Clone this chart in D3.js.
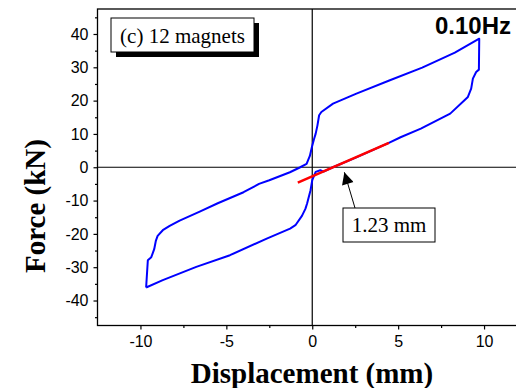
<!DOCTYPE html>
<html>
<head>
<meta charset="utf-8">
<script src="https://cdn.jsdelivr.net/npm/d3@7"></script>
<style>
    body { margin: 0; background: #fff; }
    svg { display: block; }
</style>
</head>
<body>
<svg id="chart" width="516" height="388"></svg>
<script>
// hysteresis loop (displacement mm, force kN)
const loopX = [
    -9.67, -8.7, -6.75, -4.79, -2.65, -1.29, -0.98, -0.6, -0.4, -0.3, -0.1, 0.0, 0.2, 0.47, 0.66,
    1.2, 2.5, 4.46, 5.14, 6.32, 8.03, 8.86, 9.06, 9.25, 9.35, 9.54, 9.7, 9.72,
    8.3, 6.4, 4.52, 2.57, 1.21, 0.53, 0.4, 0.3, 0.2, 0.1, -0.02, -0.14, -0.33, -0.7, -1.3,
    -2.5, -3.1, -4.0, -5.5, -6.55, -7.72, -8.3, -8.7, -9.0, -9.1, -9.2, -9.37, -9.57, -9.67
];
const loopY = [
    -36.1, -33.9, -29.9, -26.4, -21.4, -18.4, -17.4, -14.6, -12.5, -10.9, -6.9, -3.9, -1.4, -0.9, -1.3,
    0.0, 2.8, 7.3, 9.0, 11.6, 16.1, 20.1, 21.1, 23.6, 26.6, 28.6, 29.3, 38.6,
    34.4, 29.9, 26.1, 22.1, 19.1, 16.6, 15.6, 12.5, 10.1, 8.4, 6.1, 3.4, 1.0, 0.0, -1.5,
    -3.9, -5.0, -7.5, -10.8, -13.3, -16.0, -17.6, -18.9, -20.6, -22.0, -24.6, -27.0, -27.9, -36.1
];

// fitted unloading line (red)
const fitX = [-0.84, 4.46];
const fitY = [-4.6, 7.3];

// axis ticks
const xMajor = [-10, -5, 0, 5, 10];
const xMinor = [-7.5, -2.5, 2.5, 7.5];
const yMajor = [-40, -30, -20, -10, 0, 10, 20, 30, 40];
const yMinor = [-45, -35, -25, -15, -5, 5, 15, 25, 35, 45];

// labels
const xTitle = "Displacement (mm)";
const yTitle = "Force (kN)";
const legendText = "(c) 12 magnets";
const freqText = "0.10Hz";
const noteText = "1.23 mm";
const noteAt = [1.23, 0];

const svg = d3.select("#chart");

// scales, right edge of the frame falls just outside the window
const x = d3.scaleLinear().domain([-12.5, 12.5]).range([97.5, 527]);
const y = d3.scaleLinear().domain([-47.5, 47.5]).range([325.5, 9]);

const sans = "'Liberation Sans', Arial, sans-serif";
const serif = "'Liberation Serif', 'Times New Roman', serif";

// frame
svg.append("rect")
    .attr("x", x(-12.5))
    .attr("y", y(47.5))
    .attr("width", x(12.5) - x(-12.5))
    .attr("height", y(-47.5) - y(47.5))
    .attr("fill", "none")
    .attr("stroke", "#000")
    .attr("stroke-width", 1.3);

// zero lines
svg.append("line")
    .attr("x1", x(-12.5)).attr("x2", x(12.5))
    .attr("y1", y(0)).attr("y2", y(0))
    .attr("stroke", "#000").attr("stroke-width", 1.2);
svg.append("line")
    .attr("x1", x(0)).attr("x2", x(0))
    .attr("y1", y(47.5)).attr("y2", y(-47.5))
    .attr("stroke", "#000").attr("stroke-width", 1.2);

// plain hyphen minus like the original
const fmt = d => String(d);

// bottom axis
svg.append("g")
    .attr("transform", `translate(0, ${y(-47.5)})`)
    .call(d3.axisBottom(x).tickValues(xMajor).tickSize(4).tickSizeOuter(0).tickPadding(6).tickFormat(fmt));
svg.append("g")
    .attr("transform", `translate(0, ${y(-47.5)})`)
    .call(d3.axisBottom(x).tickValues(xMinor).tickSize(2.5).tickSizeOuter(0).tickFormat(""));

// left axis
svg.append("g")
    .attr("transform", `translate(${x(-12.5)}, 0)`)
    .call(d3.axisLeft(y).tickValues(yMajor).tickSize(4).tickSizeOuter(0).tickPadding(5).tickFormat(fmt));
svg.append("g")
    .attr("transform", `translate(${x(-12.5)}, 0)`)
    .call(d3.axisLeft(y).tickValues(yMinor).tickSize(2.5).tickSizeOuter(0).tickFormat(""));

svg.selectAll(".domain").attr("stroke", "none");
svg.selectAll(".tick line").attr("stroke", "#000").attr("stroke-width", 1.2);
svg.selectAll(".tick text")
    .attr("font-family", sans)
    .attr("font-size", "16px")
    .attr("fill", "#000");

// loop
const loop = loopX.map((d, i) => [d, loopY[i]]);
const line = d3.line().x(d => x(d[0])).y(d => y(d[1]));
svg.append("path")
    .datum(loop)
    .attr("d", line)
    .attr("fill", "none")
    .attr("stroke", "#0000ff")
    .attr("stroke-width", 2)
    .attr("stroke-linejoin", "round");

// fitted line
svg.append("path")
    .datum(fitX.map((d, i) => [d, fitY[i]]))
    .attr("d", line)
    .attr("fill", "none")
    .attr("stroke", "#ff0000")
    .attr("stroke-width", 2.6);

// legend box with drop shadow
const lg = svg.append("g");
lg.append("rect")
    .attr("x", 116).attr("y", 23).attr("width", 143).attr("height", 34)
    .attr("fill", "#000");
lg.append("rect")
    .attr("x", 111).attr("y", 18).attr("width", 143).attr("height", 34)
    .attr("fill", "#fff").attr("stroke", "#000").attr("stroke-width", 1);
lg.append("text")
    .attr("x", 182.5).attr("y", 42.5)
    .attr("text-anchor", "middle")
    .attr("font-family", serif)
    .attr("font-size", "21px")
    .text(legendText);

// frequency label
svg.append("text")
    .attr("x", 511).attr("y", 34)
    .attr("text-anchor", "end")
    .attr("font-family", sans)
    .attr("font-weight", "bold")
    .attr("font-size", "24px")
    .text(freqText);

// annotation with arrow
svg.append("defs").append("marker")
    .attr("id", "arrow")
    .attr("viewBox", "0 0 10 10")
    .attr("refX", 10).attr("refY", 5)
    .attr("markerWidth", 14).attr("markerHeight", 12)
    .attr("markerUnits", "userSpaceOnUse")
    .attr("orient", "auto")
    .append("path")
    .attr("d", "M0,0 L10,5 L0,10 z")
    .attr("fill", "#000");

svg.append("line")
    .attr("x1", 355).attr("y1", 208)
    .attr("x2", x(noteAt[0]) + 11).attr("y2", y(noteAt[1]) + 5)
    .attr("stroke", "#000")
    .attr("stroke-width", 1)
    .attr("marker-end", "url(#arrow)");

svg.append("rect")
    .attr("x", 343).attr("y", 208).attr("width", 92).attr("height", 34)
    .attr("fill", "#fff").attr("stroke", "#000").attr("stroke-width", 1);
svg.append("text")
    .attr("x", 389).attr("y", 232)
    .attr("text-anchor", "middle")
    .attr("font-family", serif)
    .attr("font-size", "21px")
    .text(noteText);

// axis titles
svg.append("text")
    .attr("x", 312).attr("y", 383)
    .attr("text-anchor", "middle")
    .attr("font-family", serif)
    .attr("font-weight", "bold")
    .attr("font-size", "29px")
    .text(xTitle);
svg.append("text")
    .attr("transform", "translate(45, 206) rotate(-90)")
    .attr("text-anchor", "middle")
    .attr("font-family", serif)
    .attr("font-weight", "bold")
    .attr("font-size", "29px")
    .text(yTitle);
</script>
</body>
</html>
